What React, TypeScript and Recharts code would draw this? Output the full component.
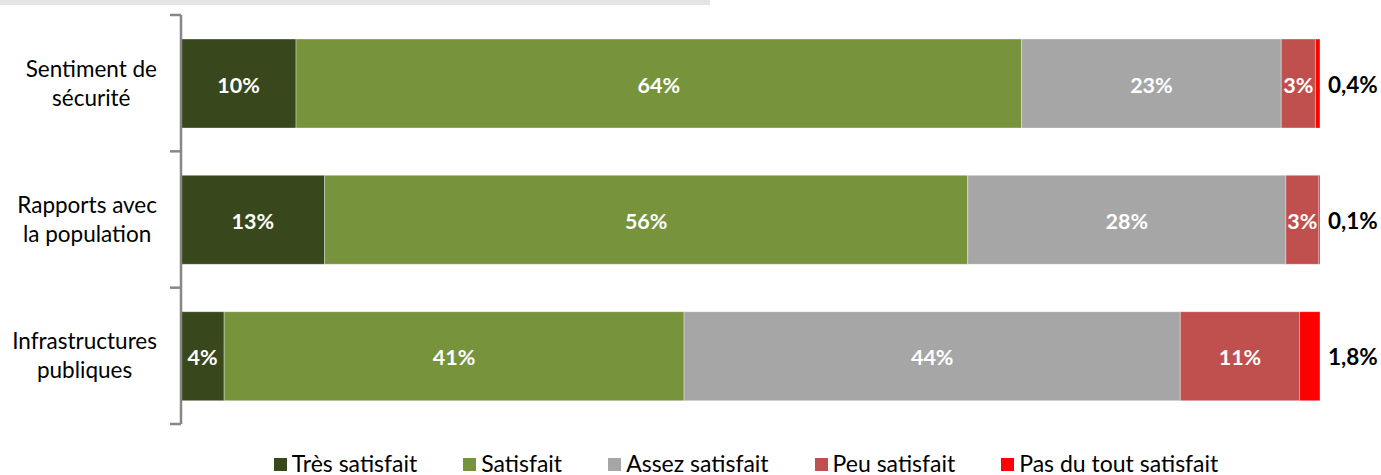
import React from "react";
import { BarChart, Bar, XAxis, YAxis, LabelList, Legend } from "recharts";

// categories (line break marks where the axis label wraps)
const categories = [
  "Sentiment de\nsécurité",
  "Rapports avec\nla population",
  "Infrastructures\npubliques",
];

const seriesNames = [
  "Très satisfait",
  "Satisfait",
  "Assez satisfait",
  "Peu satisfait",
  "Pas du tout satisfait",
];
const seriesColors = ["#38481C", "#77933C", "#A6A6A6", "#C0504D", "#FF0000"];

// percentages per category
const tresSatisfait = [10.1, 12.6, 3.8];
const satisfait = [63.7, 56.4, 40.5];
const assezSatisfait = [22.8, 27.9, 43.7];
const peuSatisfait = [3.0, 2.9, 10.5];
const pasDuToutSatisfait = [0.4, 0.1, 1.8];

const seriesValues = [
  tresSatisfait,
  satisfait,
  assezSatisfait,
  peuSatisfait,
  pasDuToutSatisfait,
];
const seriesKeys = ["s0", "s1", "s2", "s3", "s4"];

const rows = categories.map((name, i) => {
  const row: any = { name };
  seriesKeys.forEach((k, s) => {
    row[k] = seriesValues[s][i];
  });
  return row;
});

const WIDTH = 1381;
const HEIGHT = 475;
const MARGIN = { top: 15, right: 61, bottom: 51, left: 0 };
const AXIS_W = 181;
const FONT = "Lato, 'Liberation Sans', sans-serif";
const CAT_SIZE = 22.5;
const bandSize = (HEIGHT - MARGIN.top - MARGIN.bottom) / categories.length;

const inside = (v: number) => `${Math.round(v)}%`;
const outside = (v: number) => `${v.toFixed(1).replace(".", ",")}%`;

let ctx: CanvasRenderingContext2D | null = null;
const textWidth = (t: string) => {
  if (!ctx) ctx = document.createElement("canvas").getContext("2d");
  if (!ctx) return t.length * CAT_SIZE * 0.5;
  ctx.font = `${CAT_SIZE}px Lato`;
  return ctx.measureText(t).width;
};

const CategoryTick = (props: any) => {
  const { x, y, payload, index } = props;
  const lines = String(payload.value).split("\n");
  const half = bandSize / 2;
  // label block sits right-aligned before the axis, lines centred inside it
  const blockW = Math.max(...lines.map(textWidth));
  const cx = x - 24 - blockW / 2;
  return (
    <g>
      <line x1={x - 11} x2={x} y1={y - half} y2={y - half} stroke="#878787" strokeWidth={2.5} />
      {index === categories.length - 1 && (
        <line x1={x - 11} x2={x} y1={y + half} y2={y + half} stroke="#878787" strokeWidth={2.5} />
      )}
      <text x={cx} y={y - 6.5} textAnchor="middle" fontFamily={FONT} fontSize={CAT_SIZE} fill="#000">
        {lines[0]}
      </text>
      <text x={cx} y={y + 22.5} textAnchor="middle" fontFamily={FONT} fontSize={CAT_SIZE} fill="#000">
        {lines[1]}
      </text>
    </g>
  );
};

const makeLabel = (s: number) => (props: any) => {
  const { x, y, width, height, index } = props;
  const v = seriesValues[s][index];
  const cy = Number(y) + Number(height) / 2 + 9;
  if (s === seriesValues.length - 1) {
    return (
      <text x={Number(x) + Number(width) + 8} y={cy} fontFamily={FONT} fontWeight={700} fontSize={22.5} fill="#000">
        {outside(v)}
      </text>
    );
  }
  return (
    <text
      x={Number(x) + Number(width) / 2}
      y={cy}
      textAnchor="middle"
      fontFamily={FONT}
      fontWeight={700}
      fontSize={21.5}
      fill="#fff"
    >
      {inside(v)}
    </text>
  );
};

const LegendContent = () => (
  <div
    style={{
      display: "flex",
      justifyContent: "center",
      alignItems: "center",
      gap: 46,
      paddingLeft: 172,
      paddingRight: MARGIN.right,
      fontFamily: FONT,
      fontSize: 23,
      lineHeight: "22px",
      color: "#000",
    }}
  >
    {seriesNames.map((n, i) => (
      <div key={n} style={{ display: "flex", alignItems: "center", gap: 5 }}>
        <span style={{ width: 13, height: 13, background: seriesColors[i], display: "inline-block", marginTop: 3 }} />
        <span>{n}</span>
      </div>
    ))}
  </div>
);

export default function App() {
  return (
    <div style={{ position: "relative", width: WIDTH, height: HEIGHT, background: "#fff" }}>
      <style>{"body{margin:0}"}</style>
      <div style={{ position: "absolute", left: 0, top: 0, width: 710, height: 5, background: "#E4E4E4" }} />
      <BarChart
        width={WIDTH}
        height={HEIGHT}
        data={rows}
        layout="vertical"
        stackOffset="expand"
        margin={MARGIN}
        barSize={89}
      >
        <XAxis type="number" hide domain={[0, 1]} />
        <YAxis
          type="category"
          dataKey="name"
          width={AXIS_W}
          tickSize={0}
          tickMargin={0}
          axisLine={{ stroke: "#878787", strokeWidth: 2.5 }}
          tickLine={false}
          tick={<CategoryTick />}
          interval={0}
        />
        <Legend
          layout="horizontal"
          verticalAlign="middle"
          content={<LegendContent />}
          wrapperStyle={{ top: 452, left: 0, width: WIDTH }}
        />
        {seriesKeys.map((k, s) => (
          <Bar
            key={k}
            dataKey={k}
            name={seriesNames[s]}
            stackId="a"
            fill={seriesColors[s]}
            stroke="#ffffff"
            strokeOpacity={0.35}
            strokeWidth={1}
            isAnimationActive={false}
          >
            <LabelList dataKey={k} content={makeLabel(s)} />
          </Bar>
        ))}
      </BarChart>
    </div>
  );
}
